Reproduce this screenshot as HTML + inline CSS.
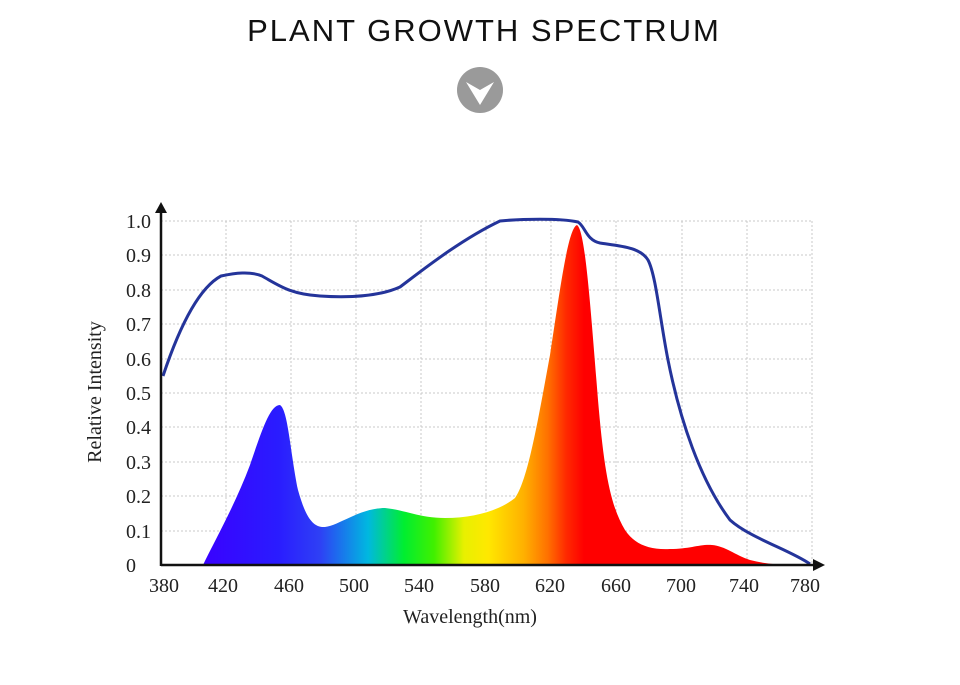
<!DOCTYPE html>
<html><head><meta charset="utf-8"><style>
html,body{margin:0;padding:0;background:#fff;width:960px;height:685px;overflow:hidden}
</style></head><body>
<svg width="960" height="685" viewBox="0 0 960 685" xmlns="http://www.w3.org/2000/svg">
<defs>
<linearGradient id="sp" gradientUnits="userSpaceOnUse" x1="200" y1="0" x2="800" y2="0">
<stop offset="0" stop-color="#3a00ff"/>
<stop offset="0.13" stop-color="#2a1cff"/>
<stop offset="0.2" stop-color="#2e40f5"/>
<stop offset="0.28" stop-color="#00b8e0"/>
<stop offset="0.34" stop-color="#00ee30"/>
<stop offset="0.39" stop-color="#40f000"/>
<stop offset="0.44" stop-color="#e8f000"/>
<stop offset="0.48" stop-color="#ffe800"/>
<stop offset="0.54" stop-color="#ffb000"/>
<stop offset="0.58" stop-color="#ff7000"/>
<stop offset="0.61" stop-color="#ff2a00"/>
<stop offset="0.64" stop-color="#ff0000"/>
<stop offset="1" stop-color="#ff0000"/>
</linearGradient>
</defs>
<text x="484" y="41" text-anchor="middle" font-family="Liberation Sans, sans-serif" font-size="31" letter-spacing="2" fill="#111">PLANT GROWTH SPECTRUM</text>
<circle cx="480" cy="90" r="23" fill="#9a9a9a"/>
<path d="M466 82 L480 105 L494 82 L480 90 Z" fill="#fff"/>
<g stroke="#c8c8c8" stroke-width="1" stroke-dasharray="2,2">
<line x1="161" y1="221" x2="812" y2="221"/><line x1="161" y1="255" x2="812" y2="255"/>
<line x1="161" y1="290" x2="812" y2="290"/><line x1="161" y1="324" x2="812" y2="324"/>
<line x1="161" y1="359" x2="812" y2="359"/><line x1="161" y1="393" x2="812" y2="393"/>
<line x1="161" y1="427" x2="812" y2="427"/><line x1="161" y1="462" x2="812" y2="462"/>
<line x1="161" y1="496" x2="812" y2="496"/><line x1="161" y1="531" x2="812" y2="531"/>
<line x1="226" y1="221" x2="226" y2="565"/><line x1="291" y1="221" x2="291" y2="565"/>
<line x1="356" y1="221" x2="356" y2="565"/><line x1="421" y1="221" x2="421" y2="565"/>
<line x1="486" y1="221" x2="486" y2="565"/><line x1="551" y1="221" x2="551" y2="565"/>
<line x1="616" y1="221" x2="616" y2="565"/><line x1="682" y1="221" x2="682" y2="565"/>
<line x1="747" y1="221" x2="747" y2="565"/><line x1="812" y1="221" x2="812" y2="565"/>
</g>
<path fill="url(#sp)" d="M203 565 C215 540 235 505 250 465 C262 430 270 405 280 405 C288 410 290 450 298 490 C305 515 312 528 325 527 C340 525 360 508 385 508 C405 510 420 518 445 518 C475 518 500 510 515 498 C528 480 538 420 550 355 C560 290 568 228 577 225 C585 230 590 300 598 400 C604 470 610 505 625 530 C635 545 650 550 670 549 C690 549 700 544 712 545 C725 546 735 555 750 560 C765 564 780 565 795 565 Z"/>
<path fill="none" stroke="#24349a" stroke-width="3" d="M163 376 C175 340 195 290 221 276 C235 273 250 271 262 276 C280 286 290 294 320 296 C350 298 380 296 400 287 C420 272 460 240 500 221 C520 219 560 218 578 222 C585 226 586 240 600 243 C620 246 640 247 648 260 C656 275 660 320 668 360 C680 420 700 480 730 520 C750 538 790 550 810 564"/>
<g stroke="#111" stroke-width="2.5" fill="none">
<line x1="161" y1="565" x2="815" y2="565"/>
<line x1="161" y1="566" x2="161" y2="210"/>
</g>
<path d="M825 565 L813 559 L813 571 Z" fill="#111"/>
<path d="M161 202 L155 213 L167 213 Z" fill="#111"/>
<g font-family="Liberation Serif, serif" font-size="20" fill="#222" text-anchor="end">
<text x="151" y="228">1.0</text><text x="151" y="262">0.9</text><text x="151" y="297">0.8</text>
<text x="151" y="331">0.7</text><text x="151" y="366">0.6</text><text x="151" y="400">0.5</text>
<text x="151" y="434">0.4</text><text x="151" y="469">0.3</text><text x="151" y="503">0.2</text>
<text x="151" y="538">0.1</text><text x="136" y="572">0</text>
</g>
<g font-family="Liberation Serif, serif" font-size="20" fill="#222" text-anchor="middle">
<text x="164" y="592">380</text><text x="223" y="592">420</text><text x="289" y="592">460</text>
<text x="354" y="592">500</text><text x="419" y="592">540</text><text x="485" y="592">580</text>
<text x="550" y="592">620</text><text x="616" y="592">660</text><text x="681" y="592">700</text>
<text x="744" y="592">740</text><text x="805" y="592">780</text>
<text x="470" y="623">Wavelength(nm)</text>
<text transform="translate(101,392) rotate(-90)">Relative Intensity</text>
</g>
</svg>
</body></html>
